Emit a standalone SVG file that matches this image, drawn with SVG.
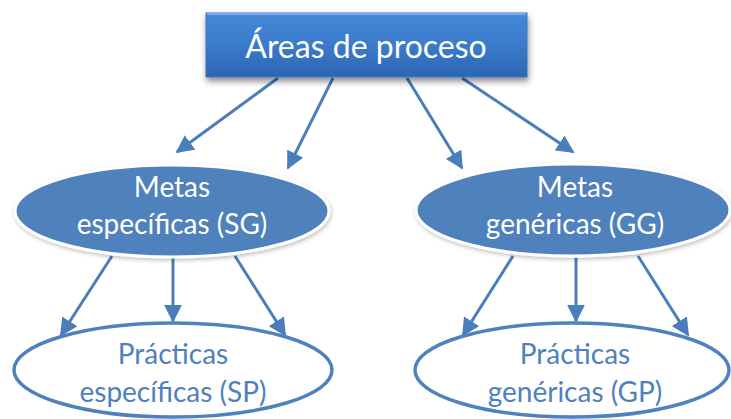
<svg xmlns="http://www.w3.org/2000/svg" width="731" height="419" viewBox="0 0 731 419">
<style>
.conn{stroke:#4A7EBB;stroke-width:3;fill:none;marker-end:url(#ah)}
.t{font-family:Lato,"Liberation Sans",sans-serif;text-anchor:middle}
.white{fill:#FFFFFF}
.blue{fill:#4F81BD}
.goal{fill:#4F81BD;stroke:#FFFFFF;stroke-width:3}
.prac{fill:#FFFFFF;stroke:#4F81BD;stroke-width:3.5}
</style>
<defs>
<marker id="ah" viewBox="0 0 10 10" refX="9" refY="5" markerWidth="6" markerHeight="6" orient="auto" markerUnits="strokeWidth">
<path d="M0,0 L10,5 L0,10 Z" fill="#4A7EBB"/>
</marker>
<linearGradient id="boxg" x1="0" y1="0" x2="0" y2="1">
<stop offset="0" stop-color="#4589D8"/>
<stop offset="0.5" stop-color="#3A7BCB"/>
<stop offset="1" stop-color="#2D66B2"/>
</linearGradient>
<filter id="sh" x="-10%" y="-20%" width="120%" height="150%">
<feGaussianBlur in="SourceAlpha" stdDeviation="3"/>
<feOffset dx="1" dy="4" result="b"/>
<feComponentTransfer><feFuncA type="linear" slope="0.45"/></feComponentTransfer>
<feMerge><feMergeNode/><feMergeNode in="SourceGraphic"/></feMerge>
</filter>
<filter id="sh2" x="-10%" y="-20%" width="120%" height="150%">
<feGaussianBlur in="SourceAlpha" stdDeviation="2"/>
<feOffset dx="1" dy="2"/>
<feComponentTransfer><feFuncA type="linear" slope="0.25"/></feComponentTransfer>
<feMerge><feMergeNode/><feMergeNode in="SourceGraphic"/></feMerge>
</filter>
</defs>
<rect width="731" height="419" fill="#FFFFFF"/>
<g id="connectors">
<line class="conn" x1="278" y1="78" x2="177" y2="152"/>
<line class="conn" x1="333" y1="78" x2="288" y2="168"/>
<line class="conn" x1="407" y1="78" x2="462" y2="168"/>
<line class="conn" x1="462" y1="78" x2="573" y2="152"/>
<line class="conn" x1="112" y1="256" x2="61" y2="335"/>
<line class="conn" x1="173" y1="258" x2="173" y2="321"/>
<line class="conn" x1="235" y1="256" x2="285" y2="335"/>
<line class="conn" x1="513" y1="256" x2="463" y2="335"/>
<line class="conn" x1="576" y1="258" x2="576" y2="321"/>
<line class="conn" x1="638" y1="256" x2="688" y2="335"/>
</g>
<g id="areas">
<rect x="206" y="13" width="321" height="64" fill="url(#boxg)" stroke="#3A75C0" stroke-width="1" filter="url(#sh)"/>
<path d="M207,14 H526" stroke="#78AAE8" stroke-width="2"/>
<text class="t white" x="366" y="58" font-size="32">Áreas de proceso</text>
</g>
<g id="metas-sg">
<ellipse class="goal" cx="172" cy="211" rx="157" ry="46" filter="url(#sh2)"/>
<text class="t white" x="172" y="197" font-size="28">Metas</text>
<text class="t white" x="172" y="234" font-size="28">específicas (SG)</text>
</g>
<g id="metas-gg">
<ellipse class="goal" cx="573" cy="210" rx="157" ry="46" filter="url(#sh2)"/>
<text class="t white" x="575" y="197" font-size="28">Metas</text>
<text class="t white" x="575" y="234" font-size="28">genéricas (GG)</text>
</g>
<g id="practicas-sp">
<ellipse class="prac" cx="173" cy="370" rx="159" ry="47"/>
<text class="t blue" x="173" y="364" font-size="28">Prácticas</text>
<text class="t blue" x="173" y="402" font-size="28">específicas (SP)</text>
</g>
<g id="practicas-gp">
<ellipse class="prac" cx="572" cy="370" rx="157" ry="47"/>
<text class="t blue" x="575" y="364" font-size="28">Prácticas</text>
<text class="t blue" x="575" y="402" font-size="28">genéricas (GP)</text>
</g>
</svg>
